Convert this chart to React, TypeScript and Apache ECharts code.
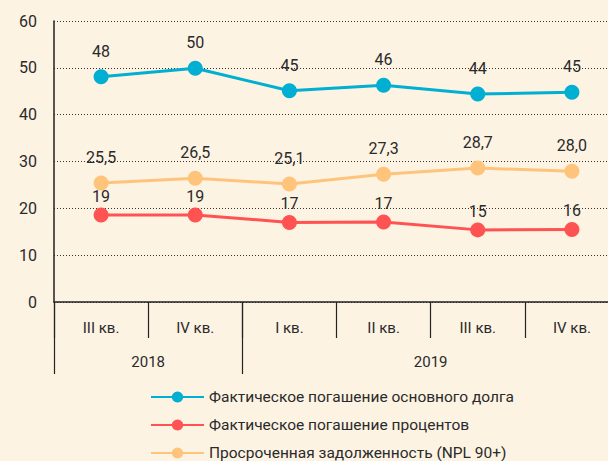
import React, { useEffect, useRef } from "react";
import * as echarts from "echarts";

const quarters = ["III кв.", "IV кв.", "I кв.", "II кв.", "III кв.", "IV кв."];
const years = ["2018", "2019"];
const yearSpans = [2, 4];

const seriesNames = [
  "Фактическое погашение основного долга",
  "Фактическое погашение процентов",
  "Просроченная задолженность (NPL 90+)",
];
const principalValues = [48.1, 49.9, 45.1, 46.3, 44.4, 44.8];
const principalLabels = ["48", "50", "45", "46", "44", "45"];
const interestValues = [18.6, 18.6, 17.0, 17.1, 15.4, 15.5];
const interestLabels = ["19", "19", "17", "17", "15", "16"];
const nplValues = [25.4, 26.4, 25.2, 27.3, 28.6, 27.9];
const nplLabels = ["25,5", "26,5", "25,1", "27,3", "28,7", "28,0"];

const yMin = 0;
const yMax = 60;
const yInterval = 10;

const FONT = "Roboto";
const TEXT = "#2a2a2a";

export default function App() {
  const ref = useRef<HTMLDivElement>(null);
  useEffect(() => {
    document.body.style.margin = "0";
    const chart = echarts.init(ref.current!, null, { renderer: "svg" });

    const yearBounds: number[] = [0];
    const yearCenters: number[] = [];
    yearSpans.forEach((s, i) => {
      const start = yearBounds[i];
      yearCenters.push(start + s / 2);
      yearBounds.push(start + s);
    });

    const mk = (name: string, values: number[], labels: string[], color: string, dist: number) => ({
      name,
      type: "line",
      xAxisIndex: 0,
      data: values,
      symbol: "circle",
      symbolSize: 15,
      lineStyle: { color, width: 3 },
      itemStyle: { color },
      label: {
        show: true,
        position: "top",
        distance: dist,
        fontFamily: FONT,
        fontSize: 16,
        color: TEXT,
        formatter: (p: any) => labels[p.dataIndex],
      },
    });

    chart.setOption({
      animation: false,
      backgroundColor: "#FDF3E3",
      textStyle: { fontFamily: FONT },
      grid: { left: 54, top: 21, right: 11, bottom: 159, containLabel: false },
      legend: {
        orient: "vertical",
        left: 150,
        top: 389,
        height: 90,
        padding: 0,
        itemWidth: 53,
        itemHeight: 14,
        itemGap: 12,
        textStyle: { fontFamily: FONT, fontSize: 15.5, color: TEXT },
        data: seriesNames,
      },
      xAxis: [
        {
          type: "category",
          data: quarters,
          boundaryGap: true,
          axisLine: { show: true, lineStyle: { color: "#222", width: 1.5 } },
          axisTick: { show: true, length: 36, interval: 0, lineStyle: { color: "#222", width: 1.2 } },
          axisLabel: { margin: 18, fontSize: 15, color: TEXT, fontFamily: FONT, interval: 0 },
          splitLine: { show: false },
        },
        {
          type: "value",
          min: 0,
          max: yearBounds[yearBounds.length - 1],
          position: "bottom",
          axisLine: { show: false },
          axisTick: {
            show: true,
            length: 72,
            customValues: yearBounds,
            lineStyle: { color: "#222", width: 1.2 },
          },
          axisLabel: {
            margin: 52,
            fontSize: 15,
            color: TEXT,
            fontFamily: FONT,
            customValues: yearCenters,
            formatter: (v: number) => {
              const i = yearCenters.indexOf(v);
              return i >= 0 ? years[i] : "";
            },
          },
          splitLine: { show: false },
        },
      ],
      yAxis: {
        type: "value",
        min: yMin,
        max: yMax,
        interval: yInterval,
        axisLine: { show: true, lineStyle: { color: "#222", width: 1.5 } },
        axisTick: { show: false },
        axisLabel: { margin: 17, fontSize: 16, color: TEXT, fontFamily: FONT },
        splitLine: { show: true, lineStyle: { color: "#333", type: [1, 2], width: 1 } },
      },
      series: [
        mk(seriesNames[0], principalValues, principalLabels, "#00AFD1", 10),
        mk(seriesNames[1], interestValues, interestLabels, "#FF5252", 3),
        mk(seriesNames[2], nplValues, nplLabels, "#FFC47C", 10),
      ],
    });
    return () => chart.dispose();
  }, []);
  return (
    <div style={{ position: "fixed", left: 0, top: 0, width: 608, height: 461, overflow: "hidden" }}>
      <div ref={ref} style={{ width: 630, height: 461 }} />
    </div>
  );
}
